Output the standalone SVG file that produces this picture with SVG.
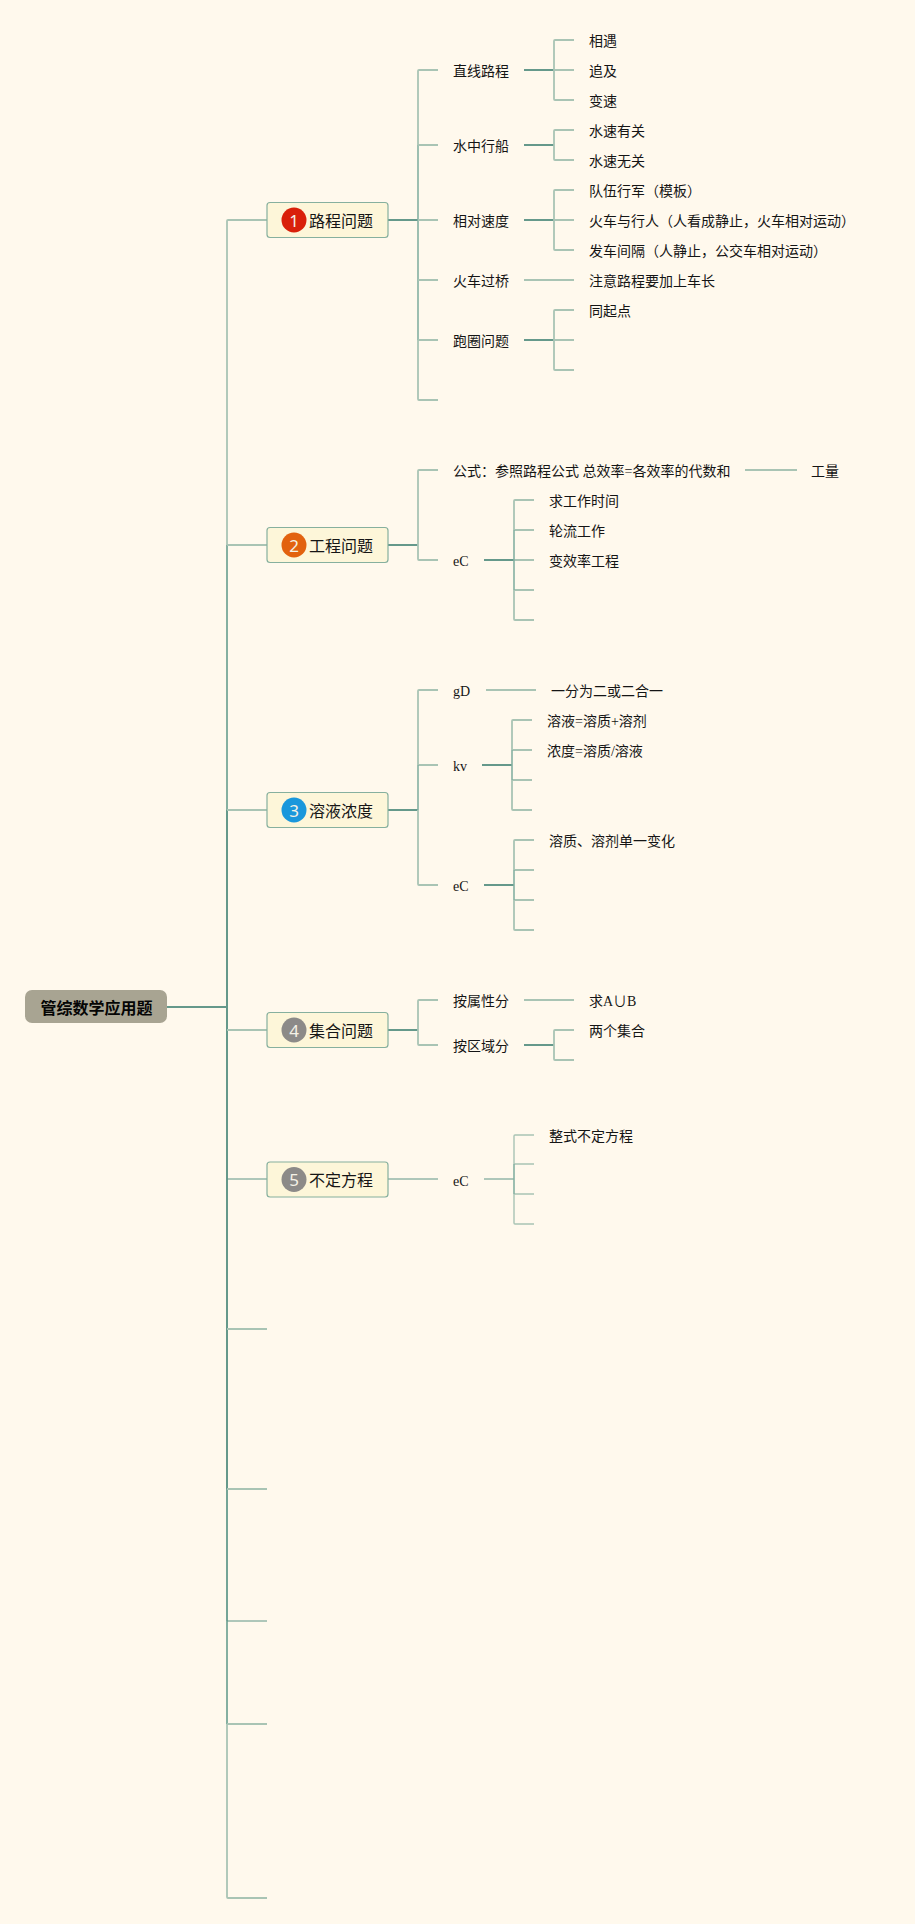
<svg xmlns="http://www.w3.org/2000/svg" width="915" height="1924" viewBox="0 0 915 1924">
<style>
text{font-family:"Liberation Serif","Noto Sans CJK SC",serif;fill:#151515;dominant-baseline:central}
.t{font-size:14px}
.h{font-size:16px}
.r{font-size:16px;font-weight:700;fill:#050505}
.box{fill:#fdf6d9;stroke:#86b09e;stroke-width:1.2}
.n{font-family:"Noto Sans","Liberation Sans",sans-serif;font-size:17px;fill:#f4f1e6;text-anchor:middle}
.c path{fill:none;stroke:#a9c4b4;stroke-width:1.8}
.c .s{stroke:#65998b;stroke-width:2}
.c .m{stroke:#85b0a1;stroke-width:1.6}
.c .f{stroke:#5f9586;stroke-width:1}
</style>
<rect width="915" height="1924" fill="#fff9ed"/>
<g id="connectors" class="c">
<path class="s" d="M167 1007H227"/>
<path d="M267 220H228Q227 220 227 221V545"/>
<path class="m" d="M227 545V810" style="stroke-width:2"/>
<path class="s" d="M227 810V1489"/>
<path class="s" d="M227 1489V1621" style="stroke:#74a597"/>
<path class="m" d="M227 1621V1724" style="stroke-width:2"/>
<path d="M227 1724V1897Q227 1898 228 1898H267"/>
<path d="M267 545H227M267 810H227M267 1030H227M267 1329H227M267 1489H227M267 1724H227"/>
<path class="f" d="M267 1179H227M267 1621H227"/>
<path class="s" d="M388 220H418"/>
<path d="M438 70H419Q418 70 418 71V145M418 340V399Q418 400 419 400H438"/>
<path class="m" d="M418 145V340"/>
<path d="M438 145H418M438 220H418M438 280H418M438 340H418"/>
<path class="s" d="M524 70H554M524 145H554M524 220H554M524 340H554"/>
<path d="M524 280H574"/>
<path d="M574 40H555Q554 40 554 41V99Q554 100 555 100H574M574 70H554"/>
<path d="M574 130H555Q554 130 554 131V159Q554 160 555 160H574"/>
<path d="M574 190H555Q554 190 554 191V249Q554 250 555 250H574M574 220H554"/>
<path d="M574 310H555Q554 310 554 311V369Q554 370 555 370H574M574 340H554"/>
<path class="s" d="M388 545H418"/>
<path d="M438 470H419Q418 470 418 471V559Q418 560 419 560H438"/>
<path d="M745 470H797"/>
<path class="s" d="M484 560H514"/>
<path d="M534 500H515Q514 500 514 501V530M514 590V619Q514 620 515 620H534M534 530H514M534 560H514M534 590H514"/>
<path class="m" d="M514 530V590"/>
<path class="s" d="M388 810H418"/>
<path d="M438 690H419Q418 690 418 691V765M418 810V884Q418 885 419 885H438M438 765H418"/>
<path class="m" d="M418 765V810"/>
<path d="M486 690H536"/>
<path class="s" d="M482 765H512"/>
<path d="M532 720H513Q512 720 512 721V750M512 780V809Q512 810 513 810H532M532 750H512M532 780H512"/>
<path class="m" d="M512 750V780"/>
<path class="s" d="M484 885H514"/>
<path d="M534 840H515Q514 840 514 841V870M514 900V929Q514 930 515 930H534M534 870H514M534 900H514"/>
<path class="m" d="M514 870V900"/>
<path class="s" d="M388 1030H418"/>
<path d="M438 1000H419Q418 1000 418 1001V1044Q418 1045 419 1045H438"/>
<path d="M524 1000H574"/>
<path class="s" d="M524 1045H554"/>
<path d="M574 1030H555Q554 1030 554 1031V1059Q554 1060 555 1060H574"/>
<path class="f" d="M388 1179H438M484 1179H514"/>
<path d="M534 1135H515Q514 1135 514 1136V1164M514 1194V1223Q514 1224 515 1224H534M534 1164H514M534 1194H514" style="stroke-width:1.4"/>
<path class="m" d="M514 1164V1194"/>
</g>
<g id="root"><rect x="25" y="990" width="142" height="33" rx="7" fill="#a8a492"/><text class="r" x="40.500" y="1008.500">管综数学应用题</text></g>
<g id="topic1"><rect class="box" x="267" y="202.500" width="121" height="35" rx="3"/><circle cx="294" cy="220" r="12.500" fill="#d9200a"/><text class="n" x="294" y="220">1</text><text class="h" x="309" y="221">路程问题</text></g>
<g id="topic2"><rect class="box" x="267" y="527.500" width="121" height="35" rx="3"/><circle cx="294" cy="545" r="12.500" fill="#e2620f"/><text class="n" x="294" y="545">2</text><text class="h" x="309" y="546">工程问题</text></g>
<g id="topic3"><rect class="box" x="267" y="792.500" width="121" height="35" rx="3"/><circle cx="294" cy="810" r="12.500" fill="#1a97dc"/><text class="n" x="294" y="810">3</text><text class="h" x="309" y="811">溶液浓度</text></g>
<g id="topic4"><rect class="box" x="267" y="1012.500" width="121" height="35" rx="3"/><circle cx="294" cy="1030" r="12.500" fill="#8c8a88"/><text class="n" x="294" y="1030">4</text><text class="h" x="309" y="1031">集合问题</text></g>
<g id="topic5"><rect class="box" x="267" y="1162" width="121" height="35" rx="3"/><circle cx="294" cy="1179.500" r="12.500" fill="#8c8a88"/><text class="n" x="294" y="1179.500">5</text><text class="h" x="309" y="1180">不定方程</text></g>
<g id="n1"><text class="t" x="453" y="71">直线路程</text></g>
<g id="n2"><text class="t" x="453" y="146">水中行船</text></g>
<g id="n3"><text class="t" x="453" y="221">相对速度</text></g>
<g id="n4"><text class="t" x="453" y="281">火车过桥</text></g>
<g id="n5"><text class="t" x="453" y="341">跑圈问题</text></g>
<g id="n6"><text class="t" x="589" y="41">相遇</text></g>
<g id="n7"><text class="t" x="589" y="71">追及</text></g>
<g id="n8"><text class="t" x="589" y="101">变速</text></g>
<g id="n9"><text class="t" x="589" y="131">水速有关</text></g>
<g id="n10"><text class="t" x="589" y="161">水速无关</text></g>
<g id="n11"><text class="t" x="589" y="191">队伍行军（模板）</text></g>
<g id="n12"><text class="t" x="589" y="221">火车与行人（人看成静止，火车相对运动）</text></g>
<g id="n13"><text class="t" x="589" y="251">发车间隔（人静止，公交车相对运动）</text></g>
<g id="n14"><text class="t" x="589" y="281">注意路程要加上车长</text></g>
<g id="n15"><text class="t" x="589" y="311">同起点</text></g>
<g id="n16"><text class="t" x="453" y="471">公式：参照路程公式 总效率=各效率的代数和</text></g>
<g id="n17"><text class="t" x="811" y="471">工量</text></g>
<g id="n18"><text class="t" x="453" y="561">eC</text></g>
<g id="n19"><text class="t" x="549" y="501">求工作时间</text></g>
<g id="n20"><text class="t" x="549" y="531">轮流工作</text></g>
<g id="n21"><text class="t" x="549" y="561">变效率工程</text></g>
<g id="n22"><text class="t" x="453" y="691">gD</text></g>
<g id="n23"><text class="t" x="551" y="691">一分为二或二合一</text></g>
<g id="n24"><text class="t" x="453" y="766">kv</text></g>
<g id="n25"><text class="t" x="547" y="721">溶液=溶质+溶剂</text></g>
<g id="n26"><text class="t" x="547" y="751">浓度=溶质/溶液</text></g>
<g id="n27"><text class="t" x="453" y="886">eC</text></g>
<g id="n28"><text class="t" x="549" y="841">溶质、溶剂单一变化</text></g>
<g id="n29"><text class="t" x="453" y="1001">按属性分</text></g>
<g id="n30"><text class="t" x="589" y="1001">求A∪B</text></g>
<g id="n31"><text class="t" x="453" y="1046">按区域分</text></g>
<g id="n32"><text class="t" x="589" y="1031">两个集合</text></g>
<g id="n33"><text class="t" x="453" y="1181">eC</text></g>
<g id="n34"><text class="t" x="549" y="1136">整式不定方程</text></g>
</svg>
